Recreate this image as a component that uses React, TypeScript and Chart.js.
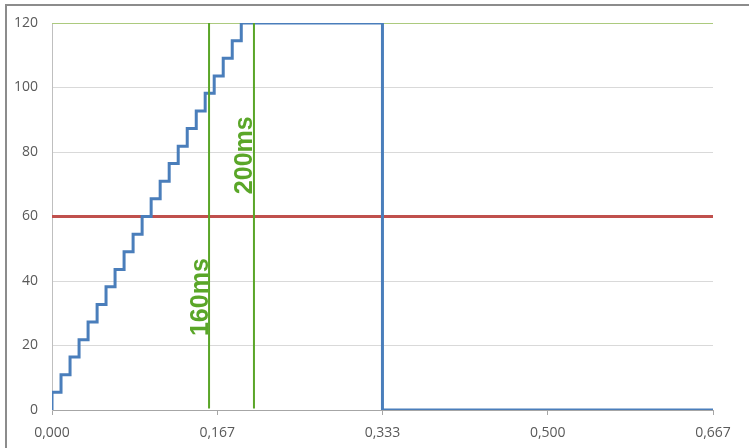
import React, { useEffect, useRef } from 'react';
import { Chart, registerables } from 'chart.js';

Chart.register(...registerables);

// Time axis (seconds)
const X_MIN = 0;
const X_MAX = 0.6667;
const X_TICKS = [0, 0.1667, 0.3333, 0.5, 0.6667];
const X_TICK_LABELS = ['0,000', '0,167', '0,333', '0,500', '0,667'];

const Y_MIN = 0;
const Y_MAX = 120;
const Y_STEP = 20;

// Blue stepped series
const BLUE_X = [0, 0, 0.0091, 0.0182, 0.0273, 0.0364, 0.0455, 0.0545, 0.0636, 0.0727, 0.0818, 0.0909, 0.1, 0.1091, 0.1182, 0.1273, 0.1364, 0.1455, 0.1545, 0.1636, 0.1727, 0.1818, 0.1909, 0.3333, 0.3333, 0.6667];
const BLUE_Y = [0, 5.5, 10.9, 16.4, 21.8, 27.3, 32.7, 38.2, 43.6, 49.1, 54.5, 60, 65.5, 70.9, 76.4, 81.8, 87.3, 92.7, 98.2, 103.6, 109.1, 114.5, 120, 120, 0, 0];

// Horizontal reference lines
const RED_LEVEL = 60;
const GREEN_LEVEL = 120;

// Vertical markers
const MARKER_X = [0.1584, 0.2037];
const MARKER_LABELS = ['160ms', '200ms'];
const MARKER_LABEL_Y = [35, 79];

const BLUE = '#4a7ebb';
const RED = '#c0504d';
const GREEN = '#5aa628';
const LIGHT_GREEN = '#acca7e';

const markerLabelPlugin = {
  id: 'markerLabels',
  afterDatasetsDraw(chart: any) {
    const ctx = chart.ctx;
    const xs = chart.scales.x;
    const ys = chart.scales.y;
    ctx.save();
    ctx.fillStyle = GREEN;
    ctx.font = 'bold 25px "Liberation Sans", Arial, sans-serif';
    ctx.textAlign = 'center';
    ctx.textBaseline = 'alphabetic';
    MARKER_X.forEach((mx, i) => {
      const px = xs.getPixelForValue(mx) - 1.5;
      const py = ys.getPixelForValue(MARKER_LABEL_Y[i]);
      ctx.save();
      ctx.translate(px, py);
      ctx.rotate(-Math.PI / 2);
      ctx.fillText(MARKER_LABELS[i], 0, 0);
      ctx.restore();
    });
    ctx.restore();
  },
};

export default function App() {
  const ref = useRef<HTMLCanvasElement>(null);

  useEffect(() => {
    if (!ref.current) return;
    const tickFont = { family: '"Open Sans", "Liberation Sans", sans-serif', size: 14 };
    const datasets: any[] = [];
    MARKER_X.forEach((mx) => {
      datasets.push({
        data: [{ x: mx, y: Y_MIN + 0.5 }, { x: mx, y: Y_MAX }],
        borderColor: GREEN,
        borderWidth: 2,
        pointRadius: 0,
        fill: false,
      });
    });
    datasets.push({
      data: BLUE_X.map((x, i) => ({ x, y: BLUE_Y[i] })),
      borderColor: BLUE,
      borderWidth: 3,
      pointRadius: 0,
      stepped: 'before',
      fill: false,
    });
    datasets.push({
      data: [{ x: X_MIN, y: RED_LEVEL }, { x: X_MAX, y: RED_LEVEL }],
      borderColor: RED,
      borderWidth: 3,
      pointRadius: 0,
      fill: false,
    });
    datasets.push({
      data: [{ x: X_MIN, y: GREEN_LEVEL }, { x: X_MAX, y: GREEN_LEVEL }],
      borderColor: LIGHT_GREEN,
      borderWidth: 2,
      pointRadius: 0,
      fill: false,
    });

    const chart = new Chart(ref.current, {
      type: 'line',
      data: { datasets },
      options: {
        animation: false,
        responsive: true,
        maintainAspectRatio: false,
        layout: { padding: { left: 0, right: 36, top: 23, bottom: 0 } },
        plugins: { legend: { display: false }, tooltip: { enabled: false } },
        elements: { line: { tension: 0 } },
        scales: {
          x: {
            type: 'linear',
            min: X_MIN,
            max: X_MAX,
            afterBuildTicks: (s: any) => {
              s.ticks = X_TICKS.map((v) => ({ value: v }));
            },
            afterFit: (s: any) => {
              s.height = 38;
            },
            ticks: {
              autoSkip: false,
              maxRotation: 0,
              padding: 10,
              color: '#595959',
              font: tickFont,
              callback: (_v: any, i: number) => X_TICK_LABELS[i],
            },
            grid: {
              drawOnChartArea: false,
              drawTicks: true,
              tickLength: 5,
              color: '#a6a6a6',
            },
            border: { color: '#a6a6a6', width: 1 },
          },
          y: {
            type: 'linear',
            min: Y_MIN,
            max: Y_MAX,
            afterFit: (s: any) => {
              s.width = 52;
            },
            ticks: {
              stepSize: Y_STEP,
              padding: 14,
              color: '#595959',
              font: tickFont,
            },
            grid: {
              color: '#d9d9d9',
              drawTicks: false,
            },
            border: { color: '#bfbfbf', width: 1 },
          },
        },
      },
      plugins: [markerLabelPlugin],
    } as any);
    return () => chart.destroy();
  }, []);

  return (
    <div style={{ position: 'absolute', left: 0, top: 0, width: 749, height: 448, background: '#fff', overflow: 'hidden' }}>
      <div style={{ position: 'absolute', left: 5, top: 4, right: -4, bottom: -4, borderTop: '2px solid #8c8c8c', borderLeft: '2px solid #8c8c8c' }} />
      <div style={{ position: 'absolute', left: 0, top: 0, width: 749, height: 448 }}>
        <canvas ref={ref} />
      </div>
    </div>
  );
}
